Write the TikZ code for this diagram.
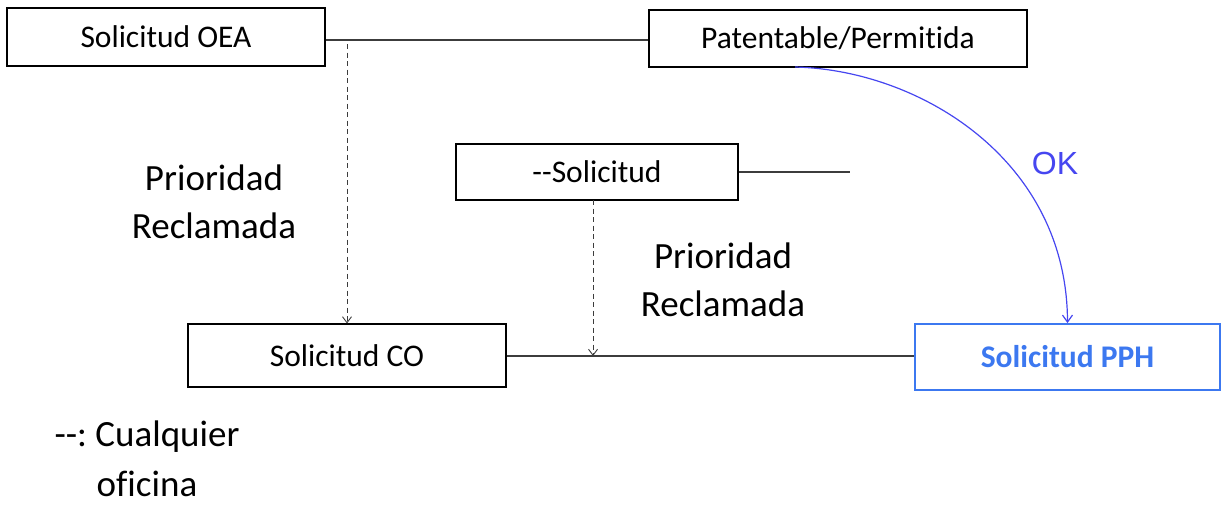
\documentclass[tikz,border=0pt]{standalone}
\usepackage{fontspec}
\setmainfont{Carlito}[Ligatures={NoCommon}]
\newfontfamily\okfont{Liberation Sans}
\usetikzlibrary{arrows.meta,calc}
\definecolor{pphblue}{RGB}{60,120,240}
\definecolor{okblue}{RGB}{70,70,240}
\definecolor{lineg}{RGB}{60,60,60}
\frenchspacing
\begin{document}
\begin{tikzpicture}[x=1pt,y=-1pt,
  box/.style={draw=black,line width=1.1pt,inner sep=0pt,align=center,font=\fontsize{31.5}{36}\selectfont},
  conn/.style={draw=lineg,line width=1.1pt},
  dasharrow/.style={draw=lineg,line width=0.9pt,dash pattern=on 5pt off 3.5pt,-{Straight Barb[length=6pt,width=9pt,line width=0.9pt]}},
  lbl/.style={align=center,font=\fontsize{37}{48}\selectfont}]
\useasboundingbox (0,0) rectangle (1221,506);
\node[box,minimum width=318pt,minimum height=58pt] (oea) at (166,37) {Solicitud OEA};
\node[box,minimum width=378pt,minimum height=57pt] (pat) at (838,38.5) {Patentable/Permitida};
\node[box,minimum width=282pt,minimum height=56pt] (sol) at (597,172) {-{}-Solicitud};
\node[box,minimum width=318pt,minimum height=63pt] (co) at (347,355.5) {Solicitud CO};
\node[box,draw=pphblue,line width=1.8pt,text=pphblue,font=\fontsize{31.5}{36}\selectfont\bfseries,minimum width=305pt,minimum height=66pt] (pph) at (1067.5,357) {Solicitud PPH};
\node[lbl] (pr1) at (214,202) {Prioridad\\Reclamada};
\node[lbl] (pr2) at (723,280) {Prioridad\\Reclamada};
\node[text=okblue,font=\fontsize{32}{36}\selectfont\okfont] (ok) at (1055,163) {OK};
\node[align=center,inner sep=0pt,font=\fontsize{37}{50}\selectfont] (note) at (147,459) {-{}-: Cualquier\\oficina};
% connectors
\coordinate (l1) at (0,40);
\draw[conn] (oea.east |- l1) -- (pat.west |- l1);
\coordinate (d1) at (347,44);
\draw[dasharrow] (d1) -- (d1 |- co.north);
\coordinate (solend) at (850,172);
\draw[conn] (sol.east) -- (solend);
\coordinate (l2) at (0,356);
\draw[conn] (co.east |- l2) -- (pph.west |- l2);
\coordinate (d2) at (593,200);
\coordinate (j2) at (593,356);
\draw[dasharrow] (d2) -- (j2);
\coordinate (cs) at (795,67);
\draw[draw=okblue,line width=1.2pt,-{Straight Barb[length=7pt,width=10pt,line width=1.2pt]}] (cs) .. controls (920,70) and (1067,160) .. (pph.north);
\end{tikzpicture}
\end{document}
